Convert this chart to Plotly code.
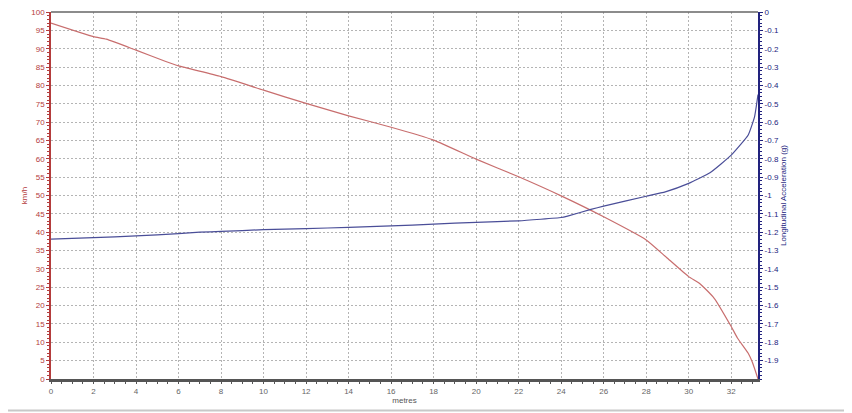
import plotly.graph_objects as go

# Speed (km/h) vs distance (metres)
speed_x = [0, 2, 2.6, 4, 5.4, 6, 8, 10, 12, 14, 16, 18, 20, 22, 24, 26, 28, 29, 30, 30.5, 31.2, 32, 32.3, 32.8, 33.0, 33.26]
speed_kmh = [97, 93.3, 92.6, 89.6, 86.5, 85.3, 82.4, 78.7, 75.1, 71.7, 68.6, 65.1, 59.9, 55.1, 49.9, 44.2, 37.9, 32.9, 27.9, 26.1, 22.0, 14.3, 11.1, 7.0, 4.5, 0]

# Longitudinal acceleration (g) vs distance (metres)
acc_x = [0, 2, 4, 6, 7, 8, 10, 12, 14, 16, 18, 20, 22, 24, 24.3, 25.4, 26, 28, 28.9, 30, 31, 32, 32.8, 33.1, 33.26]
acc_g = [-1.238, -1.23, -1.22, -1.208, -1.20, -1.196, -1.186, -1.18, -1.174, -1.166, -1.156, -1.146, -1.138, -1.12,
         -1.112, -1.076, -1.058, -1.004, -0.98, -0.934, -0.876, -0.78, -0.67, -0.57, -0.45]

x_ticks = list(range(0, 33, 2))
left_ticks = list(range(0, 101, 5))
right_ticks = [round(-0.1 * i, 1) for i in range(0, 20)]
right_tick_text = ["0" if v == 0 else ("%g" % v) for v in right_ticks]

RED_AX = "#b43c3c"
RED_LINE = "#c86e6e"
NAVY_AX = "#22237e"
NAVY_LINE = "#4a4e98"
GRAY = "#555555"
FONT = "Liberation Sans, Arial, sans-serif"
GRID_DASH = "2px,2px"

fig = go.Figure()
fig.add_trace(go.Scatter(x=speed_x, y=speed_kmh, mode="lines",
                         line=dict(color=RED_LINE, width=1.2, shape="spline", smoothing=0.5),
                         yaxis="y", showlegend=False))
fig.add_trace(go.Scatter(x=acc_x, y=acc_g, mode="lines",
                         line=dict(color=NAVY_LINE, width=1.2, shape="spline", smoothing=0.4),
                         yaxis="y2", showlegend=False))

fig.update_layout(
    width=852, height=413,
    margin=dict(l=43, r=102, t=4, b=42, autoexpand=False),
    paper_bgcolor="white", plot_bgcolor="white",
    font=dict(family=FONT, size=8, color=GRAY),
    xaxis=dict(
        range=[0, 33.26], tickvals=x_ticks, ticktext=[str(v) for v in x_ticks],
        automargin=False, ticklabeloverflow="allow",
        showgrid=True, gridcolor="#b4b4b4", griddash=GRID_DASH, gridwidth=1,
        showline=True, linecolor="#555555", linewidth=3, mirror=False,
        ticks="outside", ticklen=2, tickcolor="#555555",
        minor=dict(dtick=0.5, ticks="outside", ticklen=2, tickcolor="#555555", showgrid=False),
        tickfont=dict(size=8, color="#666666"),
        title=dict(text="metres", font=dict(size=8, color="#555555"), standoff=0),
        zeroline=False,
    ),
    yaxis=dict(
        range=[0, 100], tickvals=left_ticks, ticktext=[str(v) for v in left_ticks],
        automargin=False, ticklabeloverflow="allow",
        showgrid=True, gridcolor="#b4b4b4", griddash=GRID_DASH, gridwidth=1,
        showline=True, linecolor=RED_AX, linewidth=1.5,
        ticks="outside", ticklen=3, tickcolor=RED_AX,
        minor=dict(dtick=1, ticks="outside", ticklen=2, tickcolor=RED_AX, showgrid=False),
        tickfont=dict(size=8, color=RED_AX),
        title=dict(text="km/h", font=dict(size=8, color=RED_AX), standoff=2),
        zeroline=False,
    ),
    yaxis2=dict(
        range=[-2, 0], overlaying="y", side="right",
        tickvals=right_ticks, ticktext=right_tick_text,
        automargin=False, ticklabeloverflow="allow",
        showgrid=False, showline=True, linecolor=NAVY_AX, linewidth=2,
        ticks="outside", ticklen=3, tickcolor=NAVY_AX,
        minor=dict(dtick=0.02, ticks="outside", ticklen=2, tickcolor=NAVY_AX, showgrid=False),
        tickfont=dict(size=8, color=NAVY_AX),
        title=dict(text="Longitudinal Acceleration (g)", font=dict(size=8, color=NAVY_AX), standoff=2),
        zeroline=False,
    ),
    shapes=[
        dict(type="line", xref="paper", yref="paper", x0=0, x1=1, y0=1, y1=1,
             line=dict(color="#666666", width=1.5)),
        dict(type="line", xref="paper", yref="paper", x0=-0.072, x1=1.13, y0=-0.0858, y1=-0.0858,
             line=dict(color="#c8c8c8", width=2)),
        dict(type="line", xref="paper", yref="paper", x0=1.13, x1=1.13, y0=-0.0858, y1=1.033,
             line=dict(color="#c8c8c8", width=2)),
    ],
)

fig.write_html("out.html")
